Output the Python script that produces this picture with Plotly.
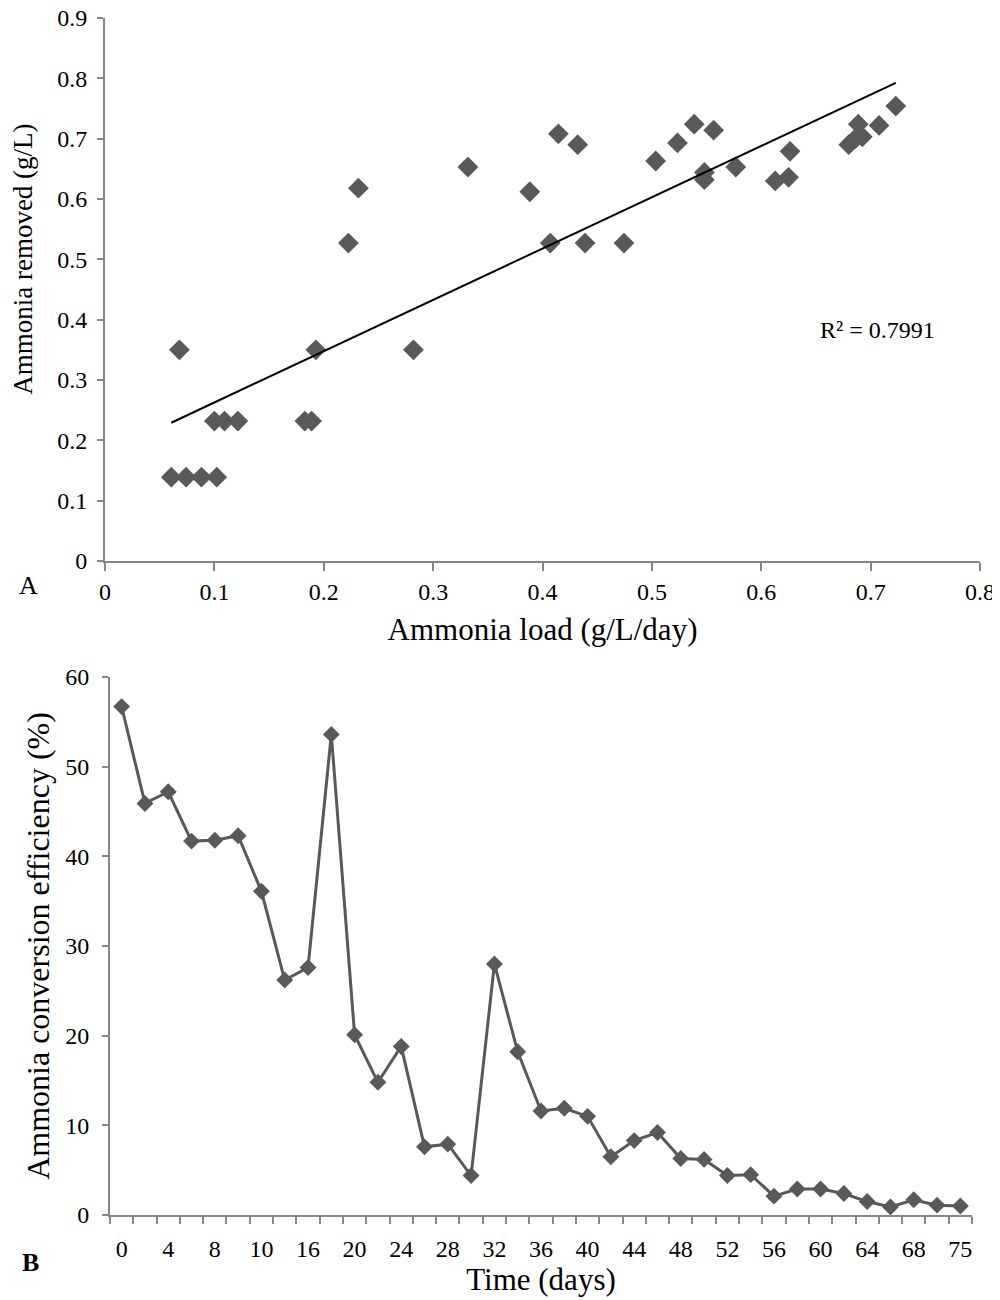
import numpy as np
import plotly.graph_objects as go

# ---- Panel A data: ammonia load vs ammonia removed ----
load = [0.0606, 0.0741, 0.0882, 0.1022, 0.068, 0.100, 0.1093, 0.1215, 0.1827, 0.1889,
        0.1928, 0.2225, 0.2317, 0.282, 0.3318, 0.3884, 0.4071, 0.4145, 0.4322, 0.4389,
        0.4745, 0.5035, 0.5234, 0.5387, 0.548, 0.548, 0.5565, 0.5767, 0.6128, 0.625,
        0.6263, 0.680, 0.686, 0.6887, 0.6924, 0.7077, 0.723]
removed = [0.139, 0.139, 0.139, 0.139, 0.35, 0.232, 0.232, 0.232, 0.232, 0.232,
           0.35, 0.527, 0.618, 0.35, 0.653, 0.612, 0.527, 0.708, 0.690, 0.527,
           0.527, 0.663, 0.693, 0.724, 0.644, 0.632, 0.714, 0.653, 0.630, 0.636,
           0.679, 0.690, 0.700, 0.724, 0.703, 0.722, 0.754]
r2_text = "R² = 0.7991"

# ---- Panel B data: conversion efficiency over time ----
days = ["0", "2", "4", "6", "8", "9", "10", "13", "16", "18", "20", "22", "24", "26",
        "28", "30", "32", "34", "36", "38", "40", "42", "44", "46", "48", "50", "52",
        "54", "56", "58", "60", "62", "64", "66", "68", "71", "75"]
efficiency = [56.7, 45.9, 47.2, 41.7, 41.8, 42.3, 36.1, 26.2, 27.6, 53.6, 20.1, 14.8,
              18.8, 7.6, 7.9, 4.4, 28.0, 18.2, 11.6, 11.9, 11.0, 6.5, 8.3, 9.2, 6.3,
              6.2, 4.4, 4.5, 2.1, 2.9, 2.9, 2.4, 1.5, 0.9, 1.7, 1.1, 1.0]

GRAY = "#595959"
AXIS = "#878787"
FONT = "Liberation Serif"
OFF = 8  # page body margin
W, H = 1000 - OFF, 1300 - OFF


def px(p):
    return (p - OFF) / W


def py(p):
    return 1 - (p - OFF) / H


fig = go.Figure()

# scatter A
fig.add_trace(go.Scatter(
    x=load, y=removed, mode="markers",
    marker=dict(symbol="diamond", size=16, color=GRAY),
    xaxis="x", yaxis="y", showlegend=False, hoverinfo="x+y"))

# linear trendline computed from the data
coef = np.polyfit(load, removed, 1)
xt = np.array([min(load), max(load)])
fig.add_trace(go.Scatter(
    x=xt, y=np.polyval(coef, xt), mode="lines",
    line=dict(color="black", width=2),
    xaxis="x", yaxis="y", showlegend=False, hoverinfo="skip"))

# line B
fig.add_trace(go.Scatter(
    x=days, y=efficiency, mode="lines+markers",
    line=dict(color=GRAY, width=3),
    marker=dict(symbol="diamond", size=13, color=GRAY),
    xaxis="x2", yaxis="y2", showlegend=False))

tickfont = dict(family=FONT, size=24, color="black")
xtitlefont = dict(family=FONT, size=31, color="black")

ticktext_b = [d if i % 2 == 0 else "" for i, d in enumerate(days)]

common = dict(showgrid=False, zeroline=False, showline=True, linecolor=AXIS,
              linewidth=2, ticks="outside", tickwidth=2, tickcolor=AXIS,
              tickfont=tickfont, automargin=False, ticklabeloverflow="allow")

fig.update_layout(
    width=W, height=H,
    margin=dict(l=0, r=0, t=0, b=0),
    paper_bgcolor="white", plot_bgcolor="white",
    font=dict(family=FONT, color="black"),
    xaxis=dict(domain=[px(105), px(980)], anchor="y", range=[0, 0.8], dtick=0.1,
               tickformat=".1~f", ticklen=8,
               title=dict(text="Ammonia load (g/L/day)", font=xtitlefont, standoff=15),
               **common),
    yaxis=dict(domain=[py(561), py(18)], anchor="x", range=[0, 0.9],
               dtick=0.1, tickformat=".1~f", ticklen=6, ticklabelstandoff=5,
               title=dict(text="&nbsp;" * 9 + "Ammonia removed (g/L)",
                          font=dict(family=FONT, size=27, color="black"), standoff=20),
               **common),
    xaxis2=dict(domain=[px(110), px(972)], anchor="y2", type="category",
                range=[-0.5, len(days) - 0.5],
                tickmode="array", tickvals=days, ticktext=ticktext_b,
                tickson="boundaries", tickangle=0, ticklen=7, ticklabelstandoff=11,
                title=dict(text="Time (days)", font=xtitlefont, standoff=4),
                **common),
    yaxis2=dict(domain=[py(1215), py(677)], anchor="x2", range=[0, 60],
                dtick=10, ticklen=6, ticklabelstandoff=8,
                title=dict(text="Ammonia conversion efficiency (%)",
                           font=dict(family=FONT, size=32, color="black"), standoff=6),
                **common),
    annotations=[
        dict(text=r2_text, x=0.7066, y=0.383, xref="x", yref="y", showarrow=False,
             xanchor="center", yanchor="middle",
             font=dict(family=FONT, size=24, color="black")),
        dict(text="A", x=px(28), y=py(585), xref="paper", yref="paper",
             xanchor="center", yanchor="middle",
             showarrow=False, font=dict(family=FONT, size=26, color="black")),
        dict(text="<b>B</b>", x=px(30), y=py(1262), xref="paper", yref="paper",
             xanchor="center", yanchor="middle",
             showarrow=False, font=dict(family=FONT, size=26, color="black")),
    ],
)

fig.write_html("out.html")
